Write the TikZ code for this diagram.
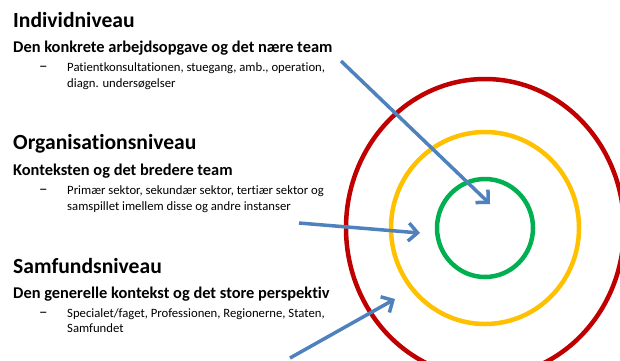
\documentclass[tikz,border=0pt]{standalone}
\usepackage{fontspec}
\setmainfont{Carlito}[Ligatures=NoCommon]
\usepackage{xcolor}
\usetikzlibrary{arrows.meta}
\definecolor{levelblue}{HTML}{4F81BD}
\definecolor{levelgreen}{HTML}{00B050}
\definecolor{levelyellow}{HTML}{FFC000}
\definecolor{levelred}{HTML}{C00000}
\tikzset{
  heading/.style={anchor=base west,inner sep=0pt,font=\fontsize{21.6}{25}\selectfont\bfseries},
  subheading/.style={anchor=base west,inner sep=0pt,font=\fontsize{16.4}{19}\selectfont\bfseries},
  bullettext/.style={anchor=base west,inner sep=0pt,font=\fontsize{12.7}{15}\selectfont},
  bulletdash/.style={anchor=base west,inner sep=0pt,font=\fontsize{17}{19}\selectfont},
  ring/.style={line width=4.5pt},
  pointer/.style={levelblue,line width=3.5pt,-{Straight Barb[length=9pt,width=18pt]}}
}

\begin{document}
\begin{tikzpicture}[x=1pt,y=-1pt]
    \useasboundingbox (0,0) rectangle (620,360);
    % individ
    \node[heading] (indiv) at (13,27) {Individniveau};
    \node[subheading] (indivsub) at (13,52) {Den konkrete arbejdsopgave og det nære team};
    \node[bulletdash] (indivdash) at (39,71) {--};
    \node[bullettext] (indivtxt) at (67,71) {Patientkonsultationen, stuegang, amb., operation,};
    \node[bullettext] (indivtxtb) at (67,87) {diagn. undersøgelser};
    % organisation
    \node[heading] (org) at (13,149) {Organisationsniveau};
    \node[subheading] (orgsub) at (13,175) {Konteksten og det bredere team};
    \node[bulletdash] (orgdash) at (39,194) {--};
    \node[bullettext] (orgtxt) at (67,194) {Primær sektor, sekundær sektor, tertiær sektor og};
    \node[bullettext] (orgtxtb) at (67,210) {samspillet imellem disse og andre instanser};
    % samfund
    \node[heading] (samf) at (13,273) {Samfundsniveau};
    \node[subheading] (samfsub) at (13,298) {Den generelle kontekst og det store perspektiv};
    \node[bulletdash] (samfdash) at (39,317) {--};
    \node[bullettext] (samftxt) at (67,317) {Specialet/faget, Professionen, Regionerne, Staten,};
    \node[bullettext] (samftxtb) at (67,332) {Samfundet};
    % rings
    \coordinate (centre) at (485,228);
    \draw[ring,levelred] (centre) ellipse [x radius=139, y radius=149];
    \draw[ring,levelyellow] (centre) ellipse [x radius=94, y radius=96];
    \draw[ring,levelgreen] (centre) ellipse [x radius=48, y radius=49];
    % pointers
    \coordinate (indivfrom) at (341,61);
    \coordinate (indivto) at (490,204);
    \coordinate (orgfrom) at (299,223);
    \coordinate (orgto) at (420,233);
    \coordinate (samffrom) at (290,358);
    \coordinate (samfto) at (395,299);
    \draw[pointer] (indivfrom) -- (indivto);
    \draw[pointer] (orgfrom) -- (orgto);
    \draw[pointer] (samffrom) -- (samfto);
\end{tikzpicture}
\end{document}
